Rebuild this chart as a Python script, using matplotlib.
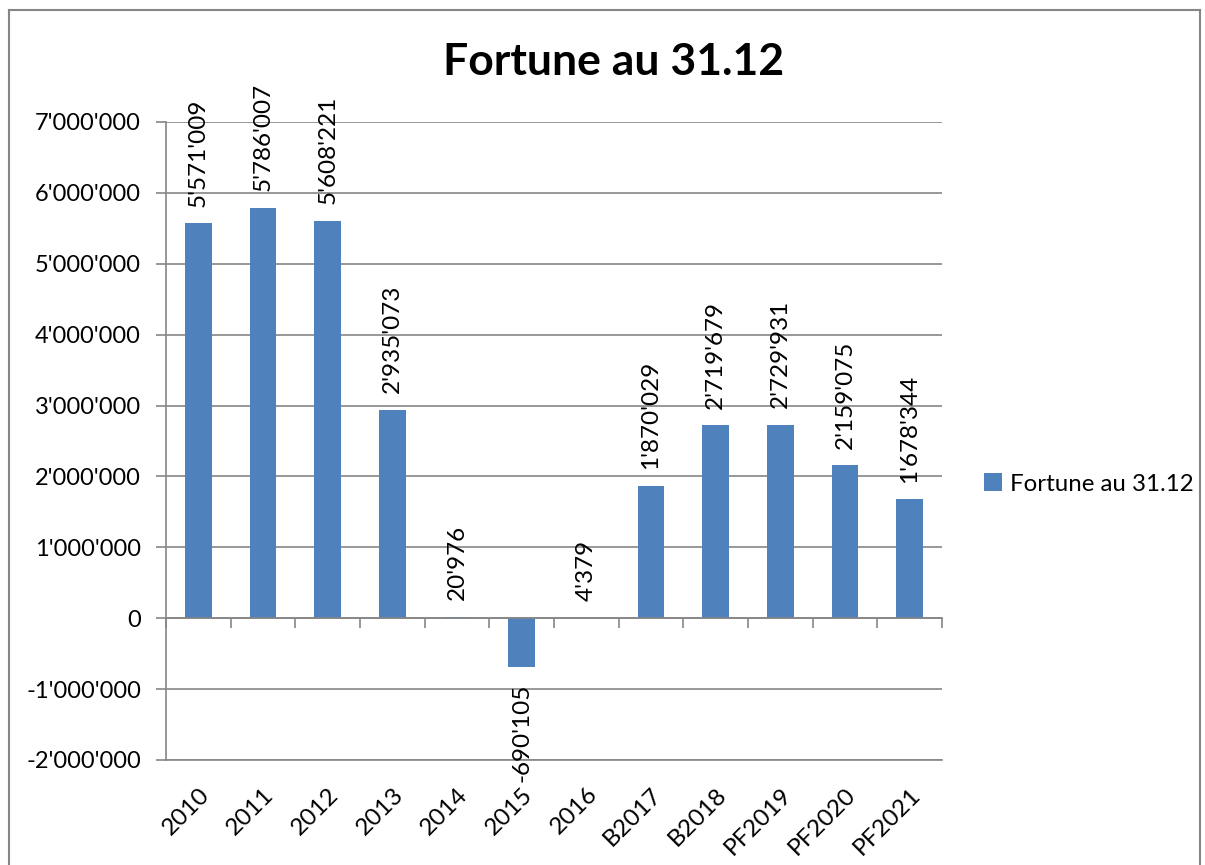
import matplotlib
matplotlib.use("Agg")
import matplotlib.pyplot as plt
from matplotlib.lines import Line2D
from matplotlib.ticker import FuncFormatter, FixedLocator

categories = ["2010", "2011", "2012", "2013", "2014", "2015", "2016",
              "B2017", "B2018", "PF2019", "PF2020", "PF2021"]
values = [5571009, 5786007, 5608221, 2935073, 20976, -690105, 4379,
          1870029, 2719679, 2729931, 2159075, 1678344]
series_name = "Fortune au 31.12"
title = "Fortune au 31.12"
y_ticks = [-2000000, -1000000, 0, 1000000, 2000000, 3000000,
           4000000, 5000000, 6000000, 7000000]

plt.rcParams['font.family'] = ['Lato', 'DejaVu Sans']

BAR = "#4F81BD"
GRID = "#868686"

def fmt(v):
    return f"{int(v):,}".replace(",", "'")

fig = plt.figure(figsize=(12.05, 8.65), dpi=100)
ax = fig.add_axes([166/1205, 1-760/865, (942-166)/1205, (760-122)/865])

x = list(range(len(categories)))
bars = ax.bar(x, values, width=0.41, color=BAR, zorder=3, label=series_name)

ax.set_xlim(-0.5, len(categories) - 0.5)
ax.set_ylim(y_ticks[0], y_ticks[-1])
ax.yaxis.set_major_locator(FixedLocator(y_ticks))
ax.yaxis.set_major_formatter(FuncFormatter(lambda v, p: fmt(v)))
ax.grid(axis='y', color=GRID, linewidth=1.2, zorder=0)
ax.tick_params(axis='y', length=7, width=1.2, color=GRID, labelsize=17, pad=11)

ax.set_xticks(x)
ax.set_xticklabels(categories, rotation=45, ha='right', rotation_mode='anchor', fontsize=17.5)
ax.tick_params(axis='x', length=0, pad=17)

for s in ['top', 'right']:
    ax.spines[s].set_visible(False)
for s in ['left', 'bottom']:
    ax.spines[s].set_color(GRID)
    ax.spines[s].set_linewidth(1.2)

# zero axis line with category ticks
y0, y1 = ax.get_ylim()
sec = ax.secondary_xaxis((0 - y0) / (y1 - y0))
sec.set_xticks([i - 0.5 for i in range(len(categories) + 1)])
sec.set_xticklabels([])
sec.tick_params(axis='x', direction='out', length=7, width=1.2, color=GRID)
sec.spines['bottom'].set_color(GRID)
sec.spines['bottom'].set_linewidth(1.2)
sec.set_zorder(4)

for b, v in zip(bars, values):
    cx = b.get_x() + b.get_width() / 2
    if v >= 0:
        ax.annotate(fmt(v), (cx, v), xytext=(0, 12), textcoords='offset points',
                    rotation=90, ha='center', va='bottom', fontsize=17.5, zorder=5)
    else:
        ax.annotate(fmt(v), (cx, v), xytext=(0, -12), textcoords='offset points',
                    rotation=90, ha='center', va='top', fontsize=17.5, zorder=5)

fig.text(614/1205, 1-62/865, title, ha='center', va='center', fontsize=32,
         fontweight='bold')

leg = fig.legend(handles=[bars], labels=[series_name], loc='center left',
                 bbox_to_anchor=(984/1205, 1-484/865), frameon=False,
                 fontsize=17.3, handlelength=0.75, handleheight=0.75,
                 handletextpad=0.35, borderaxespad=0, borderpad=0)

# outer chart border
for (xa, ya) in [((9/1205, 9/1205), (0, 1-10/865)),
                 ((9/1205, 1200/1205), (1-10/865, 1-10/865)),
                 ((1200/1205, 1200/1205), (1-10/865, 0))]:
    fig.add_artist(Line2D(xa, ya, transform=fig.transFigure, color=GRID, linewidth=1.5))

fig.savefig("out.png", dpi=100)
